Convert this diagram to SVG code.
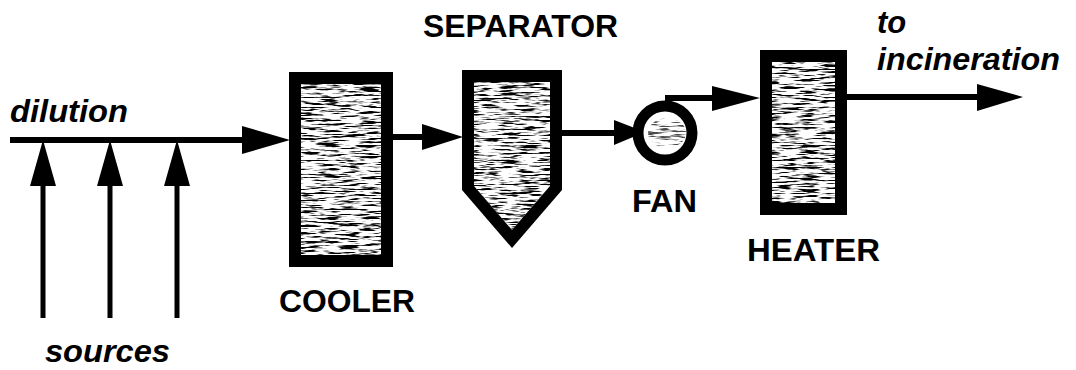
<svg xmlns="http://www.w3.org/2000/svg" width="1076" height="370" viewBox="0 0 1076 370">
<style>
.lbl{font-family:"Liberation Sans",Arial,sans-serif;font-weight:bold;font-size:31px;fill:#000}
.it{font-style:italic}
.ln{stroke:#000;stroke-width:6;fill:none}
.src{stroke:#000;stroke-width:5;fill:none}
.ah{fill:#000}
.frame{fill:#000}
.inner{fill:#fff}
.tex{fill:#000;filter:url(#grain)}
</style>
<defs>
<filter id="grain" x="0" y="0" width="100%" height="100%" color-interpolation-filters="sRGB">
<feTurbulence type="fractalNoise" baseFrequency="0.05 0.55" numOctaves="3" seed="4" result="n"/>
<feColorMatrix in="n" type="matrix" values="0 0 0 0 0  0 0 0 0 0  0 0 0 0 0  6 0 0 0 -2.9" result="a"/>
<feComposite in="a" in2="SourceGraphic" operator="in"/>
</filter>
</defs>
<rect width="1076" height="370" fill="#fff"/>
<g id="connectors">
<line class="ln" x1="10" y1="140" x2="250" y2="140"/>
<polygon class="ah" points="242,126 290,140 242,154"/>
<line class="src" x1="43" y1="180" x2="43" y2="318"/>
<polygon class="ah" points="30,186 43,140 56,186"/>
<line class="src" x1="110" y1="180" x2="110" y2="318"/>
<polygon class="ah" points="97,186 110,140 123,186"/>
<line class="src" x1="177" y1="180" x2="177" y2="318"/>
<polygon class="ah" points="164,186 177,140 190,186"/>
<line class="ln" x1="393" y1="137" x2="430" y2="137"/>
<polygon class="ah" points="422,124 463,137 422,150"/>
<line class="ln" x1="562" y1="133" x2="620" y2="133"/>
<polygon class="ah" points="614,120 645,132 614,145"/>
<line class="ln" x1="665" y1="98" x2="720" y2="98"/>
<polygon class="ah" points="712,86 760,98 712,111"/>
<line class="ln" x1="847" y1="97" x2="985" y2="97"/>
<polygon class="ah" points="977,84 1023,97 977,111"/>
</g>
<g id="cooler">
<rect class="frame" x="289" y="72" width="104" height="195"/>
<rect class="inner" x="301" y="84" width="80" height="171"/>
<rect class="tex" x="301" y="84" width="80" height="171"/>
<text class="lbl" x="279" y="312" textLength="136" lengthAdjust="spacingAndGlyphs">COOLER</text>
</g>
<g id="separator">
<polygon class="frame" points="462,70 562,70 562,190 512,248 462,190"/>
<polygon class="inner" points="474,82 550,82 550,186 512,230 474,186"/>
<polygon class="tex" points="474,82 550,82 550,186 512,230 474,186"/>
<text class="lbl" x="423" y="37" textLength="195" lengthAdjust="spacingAndGlyphs">SEPARATOR</text>
</g>
<g id="fan">
<circle cx="665" cy="133" r="27" fill="#fff" stroke="#000" stroke-width="11"/>
<ellipse class="tex" cx="667" cy="133" rx="19" ry="15" opacity="0.7"/>
<text class="lbl" x="632" y="212" textLength="65" lengthAdjust="spacingAndGlyphs">FAN</text>
</g>
<g id="heater">
<rect class="frame" x="760" y="50" width="87" height="165"/>
<rect class="inner" x="772" y="62" width="63" height="141"/>
<rect class="tex" x="772" y="62" width="63" height="141"/>
<text class="lbl" x="747" y="261" textLength="133" lengthAdjust="spacingAndGlyphs">HEATER</text>
</g>
<g id="labels">
<text class="lbl it" x="10" y="122" textLength="118" lengthAdjust="spacingAndGlyphs">dilution</text>
<text class="lbl it" x="45" y="362" textLength="125" lengthAdjust="spacingAndGlyphs">sources</text>
<text class="lbl it" x="877" y="33">to</text>
<text class="lbl it" x="877" y="70" textLength="183" lengthAdjust="spacingAndGlyphs">incineration</text>
</g>
</svg>
